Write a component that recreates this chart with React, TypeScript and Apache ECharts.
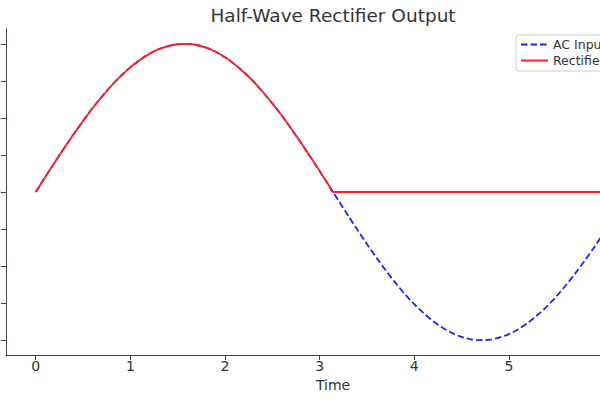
import React, { useEffect, useRef } from "react";
import * as echarts from "echarts";

const timeValues = [
  0.0, 0.1, 0.2, 0.3, 0.4, 0.5, 0.6, 0.7, 0.8, 0.9, 1.0, 1.1, 1.2, 1.3, 1.4, 1.5,
  1.6, 1.7, 1.8, 1.9, 2.0, 2.1, 2.2, 2.3, 2.4, 2.5, 2.6, 2.7, 2.8, 2.9, 3.0, 3.1,
  3.14, 3.2, 3.3, 3.4, 3.5, 3.6, 3.7, 3.8, 3.9, 4.0, 4.1, 4.2, 4.3, 4.4, 4.5, 4.6,
  4.7, 4.8, 4.9, 5.0, 5.1, 5.2, 5.3, 5.4, 5.5, 5.6, 5.7, 5.8, 5.9, 6.0, 6.1, 6.2, 6.28,
];

const acInput = [
  0.0, 0.1, 0.199, 0.296, 0.389, 0.479, 0.565, 0.644, 0.717, 0.783, 0.841, 0.891, 0.932, 0.964, 0.985, 0.997,
  1.0, 0.992, 0.974, 0.946, 0.909, 0.863, 0.808, 0.746, 0.675, 0.598, 0.516, 0.427, 0.335, 0.239, 0.141, 0.042,
  0.0, -0.058, -0.158, -0.256, -0.351, -0.443, -0.53, -0.612, -0.688, -0.757, -0.818, -0.872, -0.916, -0.952, -0.978, -0.994,
  -1.0, -0.996, -0.982, -0.959, -0.926, -0.883, -0.832, -0.773, -0.706, -0.631, -0.551, -0.465, -0.374, -0.279, -0.182, -0.083, 0.0,
];

const rectifiedOutput = [
  0.0, 0.1, 0.199, 0.296, 0.389, 0.479, 0.565, 0.644, 0.717, 0.783, 0.841, 0.891, 0.932, 0.964, 0.985, 0.997,
  1.0, 0.992, 0.974, 0.946, 0.909, 0.863, 0.808, 0.746, 0.675, 0.598, 0.516, 0.427, 0.335, 0.239, 0.141, 0.042,
  0.0, 0.0, 0.0, 0.0, 0.0, 0.0, 0.0, 0.0, 0.0, 0.0, 0.0, 0.0, 0.0, 0.0, 0.0, 0.0,
  0.0, 0.0, 0.0, 0.0, 0.0, 0.0, 0.0, 0.0, 0.0, 0.0, 0.0, 0.0, 0.0, 0.0, 0.0, 0.0, 0.0,
];

const xTicks = [0, 1, 2, 3, 4, 5];
const yTicks = [-1.0, -0.75, -0.5, -0.25, 0.0, 0.25, 0.5, 0.75, 1.0];

const OFFSET = 60;
const FONT = "DejaVu Sans";

export default function App() {
  const ref = useRef<HTMLDivElement>(null);
  useEffect(() => {
    if (!ref.current) return;
    const chart = echarts.init(ref.current, undefined, { renderer: "svg" });
    const axisLine = { show: true, onZero: false, lineStyle: { color: "#444", width: 1 } };
    const tickStyle = { show: true, length: 5, lineStyle: { color: "#444", width: 1 } };
    chart.setOption({
      animation: false,
      backgroundColor: "#fff",
      title: {
        text: "Half-Wave Rectifier Output",
        left: 333 + OFFSET,
        textAlign: "center",
        top: 6,
        padding: 0,
        textStyle: { fontFamily: FONT, fontSize: 18.5, fontWeight: "normal", color: "#333" },
      },
      legend: {
        left: 516 + OFFSET,
        top: 35,
        orient: "vertical",
        padding: [3, 6, 4, 4],
        itemWidth: 27,
        itemHeight: 14,
        itemGap: 3,
        backgroundColor: "#fff",
        borderColor: "#ccc",
        borderWidth: 1,
        borderRadius: 3,
        itemStyle: { color: "rgba(0,0,0,0)", borderWidth: 0, opacity: 0 },
        textStyle: { fontFamily: FONT, fontSize: 12.5, color: "#333" },
        data: ["AC Input", "Rectified Output"],
      },
      grid: { left: 6 + OFFSET, right: 760 - 660 - OFFSET, top: 29, bottom: 45 },
      xAxis: {
        type: "value",
        min: -0.314,
        max: 6.597,
        name: "Time",
        nameLocation: "middle",
        nameGap: 19,
        nameTextStyle: { fontFamily: FONT, fontSize: 14, color: "#333" },
        axisLine,
        splitLine: { show: false },
        axisTick: { ...tickStyle, customValues: xTicks },
        axisLabel: {
          customValues: xTicks,
          margin: 4,
          fontFamily: FONT,
          fontSize: 14,
          color: "#333",
        },
      },
      yAxis: {
        type: "value",
        min: -1.1,
        max: 1.1,
        axisLine,
        splitLine: { show: false },
        axisTick: { ...tickStyle, customValues: yTicks },
        axisLabel: {
          customValues: yTicks,
          margin: 5,
          fontFamily: FONT,
          fontSize: 14,
          color: "#333",
          formatter: (v: number) => v.toFixed(2),
        },
      },
      series: [
        {
          name: "AC Input",
          type: "line",
          data: timeValues.map((t, i) => [t, acInput[i]]),
          symbol: "none",
          smooth: 0.3,
          color: "#1f1fff",
          lineStyle: { color: "#1f1fff", width: 1.8, type: [6.5, 3] },
          z: 2,
        },
        {
          name: "Rectified Output",
          type: "line",
          data: timeValues.map((t, i) => [t, rectifiedOutput[i]]),
          symbol: "none",
          smooth: 0.3,
          color: "#ff1f1f",
          lineStyle: { color: "#ff1f1f", width: 1.8 },
          z: 3,
        },
      ],
    });
    return () => chart.dispose();
  }, []);
  return (
    <div style={{ position: "fixed", left: 0, top: 0, width: 600, height: 400, overflow: "hidden", background: "#fff" }}>
      <div ref={ref} style={{ position: "absolute", left: -OFFSET, top: 0, width: 760, height: 400 }} />
    </div>
  );
}
